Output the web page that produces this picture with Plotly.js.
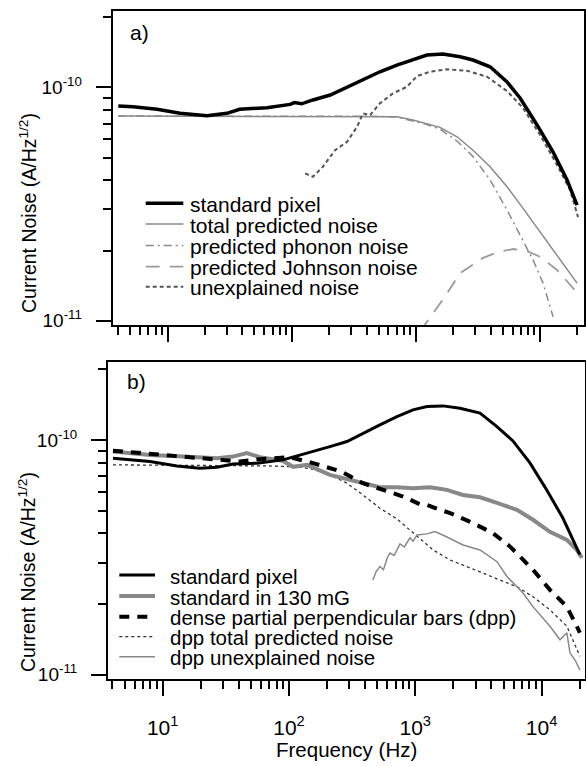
<!DOCTYPE html>
<html><head><meta charset="utf-8">
<script src="https://cdn.plot.ly/plotly-3.0.1.min.js"></script>
<style>html,body{margin:0;padding:0;background:#fff}#g{width:586px;height:766px}</style>
</head><body><div id="g"></div>
<script>
// ---------- Panel a) ----------
const fA_std = [4, 5.25, 8.2, 12.6, 20.7, 30, 38, 63, 97, 105, 120, 148, 204, 279, 374, 513, 703, 946, 1227, 1651, 2264, 2884, 3955, 5423, 6900, 9460, 12740, 16500, 19870];
const nA_std = [8.32e-11, 8.26e-11, 8.05e-11, 7.74e-11, 7.55e-11, 7.74e-11, 8.05e-11, 8.18e-11, 8.45e-11, 8.6e-11, 8.5e-11, 8.83e-11, 9.27e-11, 1.0e-10, 1.074e-10, 1.166e-10, 1.246e-10, 1.318e-10, 1.375e-10, 1.389e-10, 1.352e-10, 1.309e-10, 1.225e-10, 1.054e-10, 9.0e-11, 6.9e-11, 5.28e-11, 4.01e-11, 3.13e-11];

const fA_tot = [4, 50, 200, 400, 703, 946, 1227, 1563, 2143, 2884, 3955, 5423, 7295, 10000, 13700, 19870];
const nA_tot = [7.53e-11, 7.53e-11, 7.53e-11, 7.52e-11, 7.48e-11, 7.24e-11, 7.0e-11, 6.74e-11, 6.14e-11, 5.38e-11, 4.57e-11, 3.75e-11, 3.03e-11, 2.40e-11, 1.91e-11, 1.45e-11];

const fA_ph = [4, 50, 200, 400, 703, 946, 1227, 1563, 2143, 2884, 3955, 5423, 7295, 8790, 10570, 12740];
const nA_ph = [7.53e-11, 7.53e-11, 7.53e-11, 7.52e-11, 7.47e-11, 7.19e-11, 6.93e-11, 6.62e-11, 5.89e-11, 5.05e-11, 4.01e-11, 2.98e-11, 2.22e-11, 1.82e-11, 1.45e-11, 1.04e-11];

const fA_jn = [1080, 1253, 1714, 2264, 3474, 4590, 6066, 7860, 10000, 13700, 19870];
const nA_jn = [9.0e-12, 1.007e-11, 1.27e-11, 1.60e-11, 1.86e-11, 1.97e-11, 2.03e-11, 1.99e-11, 1.88e-11, 1.65e-11, 1.32e-11];

const fA_un = [128, 148, 178, 223, 279, 336, 374, 427, 513, 653, 847, 1020, 1299, 1780, 2578, 3738, 5423, 7295, 10000, 13700, 17460, 20230];
const nA_un = [4.28e-11, 4.14e-11, 4.57e-11, 5.38e-11, 5.85e-11, 6.78e-11, 7.74e-11, 7.6e-11, 8.54e-11, 9.42e-11, 1.006e-10, 1.117e-10, 1.166e-10, 1.194e-10, 1.178e-10, 1.11e-10, 9.64e-11, 8.15e-11, 6.25e-11, 4.65e-11, 3.63e-11, 2.78e-11];

// ---------- Panel b) ----------
const fB_std = [4.04, 7.93, 12.98, 19.7, 26.9, 36, 55.8, 89.6, 116, 155, 211, 288, 385, 525, 716, 959, 1238, 1659, 2259, 3255, 4433, 5935, 8090, 11020, 14750, 17700, 20100];
const nB_std = [8.36e-11, 8.09e-11, 7.75e-11, 7.58e-11, 7.65e-11, 7.90e-11, 7.96e-11, 8.22e-11, 8.55e-11, 8.92e-11, 9.36e-11, 9.84e-11, 1.069e-10, 1.159e-10, 1.256e-10, 1.342e-10, 1.386e-10, 1.396e-10, 1.365e-10, 1.30e-10, 1.14e-10, 9.9e-11, 7.98e-11, 6.1e-11, 4.65e-11, 3.75e-11, 3.25e-11];

const fB_mg = [4.04, 7.93, 14.5, 26.9, 36, 46.4, 58.9, 89.6, 108, 139, 211, 288, 385, 525, 716, 959, 1309, 1782, 2387, 3255, 4433, 6380, 8550, 11650, 15870, 19000, 20890];
const nB_mg = [8.92e-11, 8.63e-11, 8.49e-11, 8.36e-11, 8.49e-11, 8.78e-11, 8.44e-11, 8.14e-11, 7.68e-11, 7.83e-11, 7.10e-11, 6.81e-11, 6.50e-11, 6.29e-11, 6.29e-11, 6.22e-11, 6.29e-11, 6.13e-11, 5.83e-11, 5.70e-11, 5.39e-11, 5.04e-11, 4.57e-11, 4.06e-11, 3.75e-11, 3.40e-11, 3.15e-11];

const fB_dpp = [4.04, 7.93, 14.5, 26.9, 40.9, 58.9, 102, 155, 261, 385, 597, 800, 1090, 1238, 1570, 1890, 2871, 4120, 5620, 8550, 11650, 15870, 19000, 20100];
const nB_dpp = [9.0e-11, 8.72e-11, 8.44e-11, 8.22e-11, 8.09e-11, 8.28e-11, 8.44e-11, 7.96e-11, 7.33e-11, 6.54e-11, 6.03e-11, 5.74e-11, 5.32e-11, 5.28e-11, 5.04e-11, 4.88e-11, 4.42e-11, 4.01e-11, 3.52e-11, 2.80e-11, 2.30e-11, 1.95e-11, 1.61e-11, 1.51e-11];

const fB_tp = [4.04, 19.7, 67, 122, 155, 211, 288, 385, 525, 716, 1032, 1384, 1890, 2570, 3440, 4690, 6380, 8550, 11650, 15870, 20100];
const nB_tp = [7.83e-11, 7.79e-11, 7.75e-11, 7.67e-11, 7.50e-11, 7.10e-11, 6.54e-11, 5.83e-11, 5.12e-11, 4.61e-11, 3.88e-11, 3.40e-11, 3.08e-11, 2.89e-11, 2.71e-11, 2.53e-11, 2.37e-11, 2.15e-11, 1.89e-11, 1.61e-11, 1.20e-11];

const fB_un = [462, 490, 525, 560, 600, 631, 680, 757, 820, 908, 960, 1032, 1238, 1432, 1782, 2387, 3255, 4433, 5320, 7130, 8550, 11650, 13990, 15870, 16790, 18500, 20100];
const nB_un = [2.53e-11, 2.75e-11, 2.89e-11, 2.80e-11, 3.15e-11, 3.30e-11, 3.22e-11, 3.61e-11, 3.50e-11, 3.83e-11, 3.70e-11, 3.94e-11, 3.98e-11, 4.07e-11, 3.86e-11, 3.57e-11, 3.40e-11, 3.03e-11, 2.62e-11, 2.23e-11, 1.95e-11, 1.61e-11, 1.41e-11, 1.51e-11, 1.24e-11, 1.15e-11, 1.05e-11];

// ---------- ticks / labels ----------
const xMajor = [10, 100, 1000, 10000];
const xMajorText = ['10<sup>1</sup>', '10<sup>2</sup>', '10<sup>3</sup>', '10<sup>4</sup>'];
const xMinor = [4,5,6,7,8,9,20,30,40,50,60,70,80,90,200,300,400,500,600,700,800,900,2000,3000,4000,5000,6000,7000,8000,9000,20000];
const yMajor = [1e-11, 1e-10];
const yMajorText = ['10<sup>-11</sup>', '10<sup>-10</sup>'];
const yMinor = [2e-11,3e-11,4e-11,5e-11,6e-11,7e-11,8e-11,9e-11,2e-10];

const legendA = ['standard pixel', 'total predicted noise', 'predicted phonon noise', 'predicted Johnson noise', 'unexplained noise'];
const legendB = ['standard pixel', 'standard in 130 mG', 'dense partial perpendicular bars (dpp)', 'dpp total predicted noise', 'dpp unexplained noise'];

// styles
const stA = [
  {color:'#000', width:3.5, dash:'solid'},
  {color:'#8a8a8a', width:1.5, dash:'solid'},
  {color:'#8a8a8a', width:1.5, dash:'8px,4px,2px,4px'},
  {color:'#9a9a9a', width:1.8, dash:'14px,10px'},
  {color:'#555', width:2, dash:'4px,3px'}
];
const stB = [
  {color:'#000', width:3, dash:'solid'},
  {color:'#888', width:4, dash:'solid'},
  {color:'#000', width:4, dash:'10px,8px'},
  {color:'#333', width:1.3, dash:'3px,3px'},
  {color:'#888', width:1.5, dash:'solid'}
];

const FONT = 'Liberation Sans, Arial, Helvetica, sans-serif';
const ML = 108, MR = 1, MT = 11, MB = 87, W = 586, H = 766;
const PW = W - ML - MR, PH = H - MT - MB;
const P = px => (px - ML) / PW;
const Q = py => (H - MB - py) / PH;

const dataA = [[fA_std,nA_std],[fA_tot,nA_tot],[fA_ph,nA_ph],[fA_jn,nA_jn],[fA_un,nA_un]];
const dataB = [[fB_std,nB_std],[fB_mg,nB_mg],[fB_dpp,nB_dpp],[fB_tp,nB_tp],[fB_un,nB_un]];
const orderA = [1,2,3,4,0];
const orderB = [3,4,1,2,0];
const traces = [];
orderA.forEach(i => traces.push({x:dataA[i][0], y:dataA[i][1], xaxis:'x', yaxis:'y', mode:'lines', name:legendA[i], line:stA[i], showlegend:false, hoverinfo:'skip'}));
orderB.forEach(i => traces.push({x:dataB[i][0], y:dataB[i][1], xaxis:'x2', yaxis:'y2', mode:'lines', name:legendB[i], line:stB[i], showlegend:false, hoverinfo:'skip'}));

function xax(domain, range, labels) {
  return {type:'log', domain:domain, range:range, showgrid:false, zeroline:false,
    showline:true, linecolor:'#000', linewidth:2, mirror:true,
    tickmode:'array', tickvals:xMajor, ticktext:xMajorText, ticks:'outside', ticklen:15, tickwidth:2, tickcolor:'#000',
    showticklabels:labels, ticklabelstandoff:14,
    tickfont:{family:FONT, size:21, color:'#000'},
    minor:{tickmode:'array', tickvals:xMinor, ticks:'outside', ticklen:8, tickwidth:2, tickcolor:'#000', showgrid:false}};
}
function yax(domain, range, anchor) {
  return {type:'log', domain:domain, range:range, anchor:anchor, showgrid:false, zeroline:false,
    showline:true, linecolor:'#000', linewidth:2, mirror:true,
    tickmode:'array', tickvals:yMajor, ticktext:yMajorText, ticks:'outside', ticklen:15, tickwidth:2, tickcolor:'#000',
    ticklabelstandoff:10,
    tickfont:{family:FONT, size:19, color:'#000'},
    minor:{tickmode:'array', tickvals:yMinor, ticks:'outside', ticklen:8, tickwidth:2, tickcolor:'#000', showgrid:false}};
}

const shapes = [], annotations = [];
const rowA = [203.3, 224, 245.5, 266.7, 286.7];
const rowB = [575, 596, 616.7, 636.7, 656.7];
legendA.forEach((t,i) => {
  shapes.push({type:'line', xref:'paper', yref:'paper', x0:P(145.7), x1:P(183.3), y0:Q(rowA[i]), y1:Q(rowA[i]), line:stA[i]});
  annotations.push({xref:'paper', yref:'paper', x:P(188), y:Q(rowA[i]+1), xanchor:'left', yanchor:'middle', showarrow:false, text:t, font:{family:FONT, size:21, color:'#000'}});
});
legendB.forEach((t,i) => {
  shapes.push({type:'line', xref:'paper', yref:'paper', x0:P(119.3), x1:P(155), y0:Q(rowB[i]), y1:Q(rowB[i]), line:stB[i]});
  annotations.push({xref:'paper', yref:'paper', x:P(168), y:Q(rowB[i]+1), xanchor:'left', yanchor:'middle', showarrow:false, text:t, font:{family:FONT, size:20.5, color:'#000'}});
});
annotations.push({xref:'paper', yref:'paper', x:P(139), y:Q(32), xanchor:'center', yanchor:'middle', showarrow:false, text:'a)', font:{family:FONT, size:21, color:'#000'}});
annotations.push({xref:'paper', yref:'paper', x:P(136), y:Q(381), xanchor:'center', yanchor:'middle', showarrow:false, text:'b)', font:{family:FONT, size:21, color:'#000'}});
const yTitle = 'Current Noise (A/Hz<sup>1/2</sup>)';
annotations.push({xref:'paper', yref:'paper', x:P(28), y:Q(213), xanchor:'center', yanchor:'middle', textangle:-90, showarrow:false, text:yTitle, font:{family:FONT, size:19.5, color:'#000'}});
annotations.push({xref:'paper', yref:'paper', x:P(27), y:Q(572), xanchor:'center', yanchor:'middle', textangle:-90, showarrow:false, text:yTitle, font:{family:FONT, size:19.5, color:'#000'}});
annotations.push({xref:'paper', yref:'paper', x:P(346), y:Q(749), xanchor:'center', yanchor:'middle', showarrow:false, text:'Frequency (Hz)', font:{family:FONT, size:20.5, color:'#000'}});

const layout = {
  width:W, height:H, margin:{l:ML, r:MR, t:MT, b:MB, pad:0},
  paper_bgcolor:'#fff', plot_bgcolor:'#fff', showlegend:false,
  xaxis: xax([P(112.7), P(584)], [0.557, 4.354], false),
  yaxis: yax([Q(325), 1], [-11.018, -9.673], 'x'),
  xaxis2: Object.assign(xax([0, 1], [0.567, 4.344], true), {anchor:'y2'}),
  yaxis2: yax([0, Q(361.7)], [-11.018, -9.667], 'x2'),
  shapes: shapes, annotations: annotations,
  font:{family:FONT, size:20, color:'#000'}
};
Plotly.newPlot('g', traces, layout, {displayModeBar:false, staticPlot:true});
</script></body></html>
